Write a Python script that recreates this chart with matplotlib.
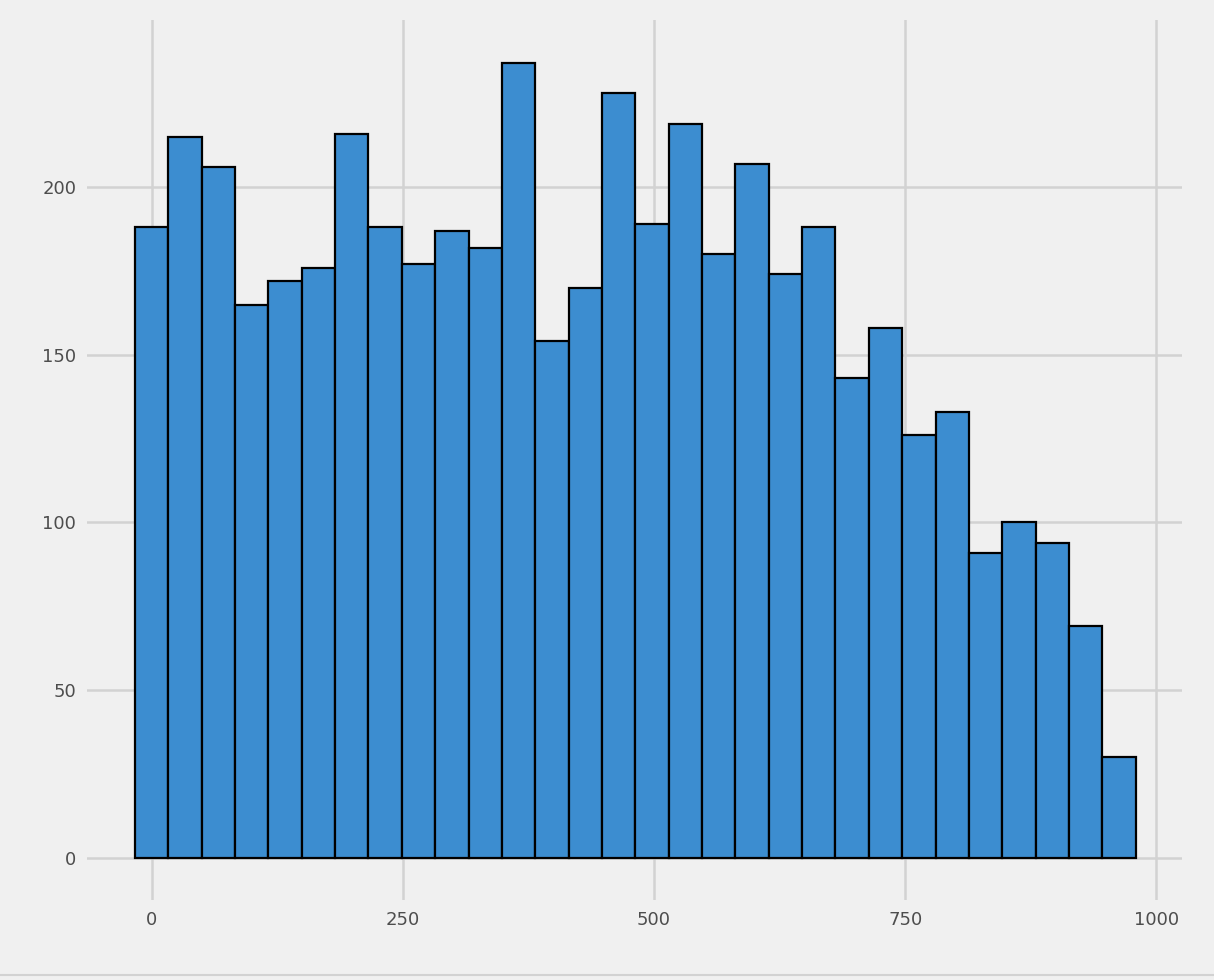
import matplotlib
matplotlib.use("Agg")
import matplotlib.pyplot as plt
import numpy as np

bin_start = -16.6
bin_width = 33.2
counts = [188, 215, 206, 165, 172, 176, 216, 188, 177, 187, 182, 237, 154, 170, 228,
          189, 219, 180, 207, 174, 188, 143, 158, 126, 133, 91, 100, 94, 69, 30]
xticks = [0, 250, 500, 750, 1000]
yticks = [0, 50, 100, 150, 200]

fig = plt.figure(figsize=(12.14, 9.8), dpi=100, facecolor="#F0F0F0")
ax = fig.add_axes([0.072, 0.082, 0.902, 0.898])
ax.set_facecolor("#F0F0F0")
lefts = bin_start + bin_width * np.arange(len(counts))
ax.bar(lefts, counts, width=bin_width, align="edge", color="#3C8DD0",
       edgecolor="black", linewidth=1.6, zorder=3)
ax.set_xlim(-64, 1026)
ax.set_ylim(-12.5, 250)
ax.set_xticks(xticks)
ax.set_yticks(yticks)
ax.grid(True, color="#D2D2D2", linewidth=1.8, zorder=0)
for s in ax.spines.values():
    s.set_visible(False)
ax.tick_params(length=0, labelsize=13, colors="#4D4D4D", pad=8)
fig.add_artist(plt.Line2D([0, 1], [0.005, 0.005], color="#D2D2D2", linewidth=1.5))
fig.savefig("out.png", dpi=100, facecolor=fig.get_facecolor())
